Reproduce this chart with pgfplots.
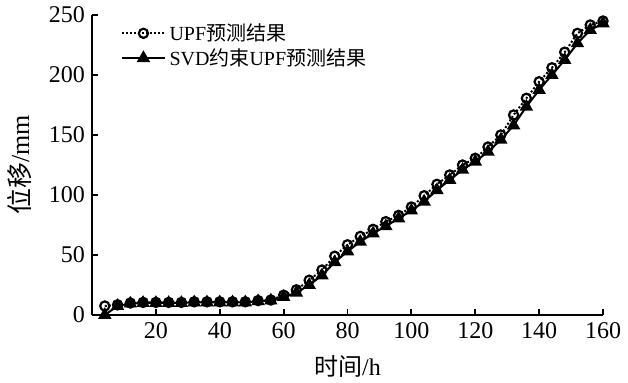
\documentclass[border=0pt]{standalone}
\usepackage{pgfplots}
\pgfplotsset{compat=1.18}
\usepackage{fontspec}
\setmainfont{Liberation Serif}
\newfontfamily\cjk{Noto Sans CJK SC}
\begin{document}
\begin{tikzpicture}
\begin{axis}[
  name=a,
  scale only axis,
  width=255.5pt, height=150pt,
  xmin=0, xmax=160, ymin=0, ymax=250,
  axis lines=left,
  axis line style={-, line width=0.9pt},
  xtick={20,40,...,160},
  ytick={0,50,...,250},
  tick align=inside,
  major tick length=3pt,
  tick style={line width=0.9pt, black},
  /pgf/number format/assume math mode=true,
  ticklabel style={font=\fontsize{12}{13}\selectfont},
  xlabel={\cjk 时间\rmfamily/h},
  ylabel={\cjk 位移\rmfamily/mm},
  xlabel style={font=\fontsize{12}{13}\selectfont, yshift=-1.5pt},
  ylabel style={font=\fontsize{13}{14}\selectfont, yshift=2pt},
  legend style={at={(0.045,1.0)}, anchor=north west, draw=none, fill=none,
    font=\fontsize{10}{11}\selectfont, row sep=-1.5pt},
  legend cell align=left,
  legend image code/.code={\draw[mark repeat=2,mark phase=2]
    plot coordinates {(0cm,0cm)(0.37cm,0cm)(0.74cm,0cm)};},
  clip=false,
]
\addplot[black, line width=1pt, densely dotted, mark=o,
  mark options={solid, fill=white, line width=1.1pt, scale=1.15}]
coordinates {
(4,7.5)(8,8.5)(12,10)(16,10.5)(20,10.5)(24,10.5)(28,10.5)(32,11)(36,11)(40,11)
(44,11)(48,11)(52,12)(56,12.5)(60,16.5)(64,21)(68,29)(72,37.5)(76,49)(80,58.5)
(84,65.5)(88,71.4)(92,77.8)(96,83)(100,90)(104,99.4)(108,108.9)(112,116.7)(116,125)(120,130.6)
(124,140)(128,150)(132,166.7)(136,180.6)(140,194.4)(144,206)(148,219)(152,234.7)(156,241.7)(160,245)
};
\addlegendentry{UPF\cjk 预测结果}
\addplot[black, line width=1pt, solid, mark=triangle*,
  mark options={solid, fill=black, scale=1.45}]
coordinates {
(4,0)(8,7.5)(12,9.5)(16,10)(20,10)(24,10)(28,10)(32,10.5)(36,10.5)(40,10.5)
(44,10.5)(48,10.5)(52,11.5)(56,12)(60,15)(64,18.5)(68,25)(72,33)(76,44)(80,53)
(84,61)(88,68)(92,74)(96,80.5)(100,87)(104,94.4)(108,104)(112,112.5)(116,121)(120,127.8)
(124,136)(128,146)(132,158)(136,173.6)(140,187.5)(144,200)(148,212.5)(152,226.4)(156,237.5)(160,243)
};
\addlegendentry{SVD\cjk 约束\rmfamily UPF\cjk 预测结果}
\end{axis}
\pgfresetboundingbox
\path ([shift={(-46pt,-34pt)}]a.south west) rectangle ([shift={(12.5pt,7.5pt)}]a.north east);
\end{tikzpicture}
\end{document}
